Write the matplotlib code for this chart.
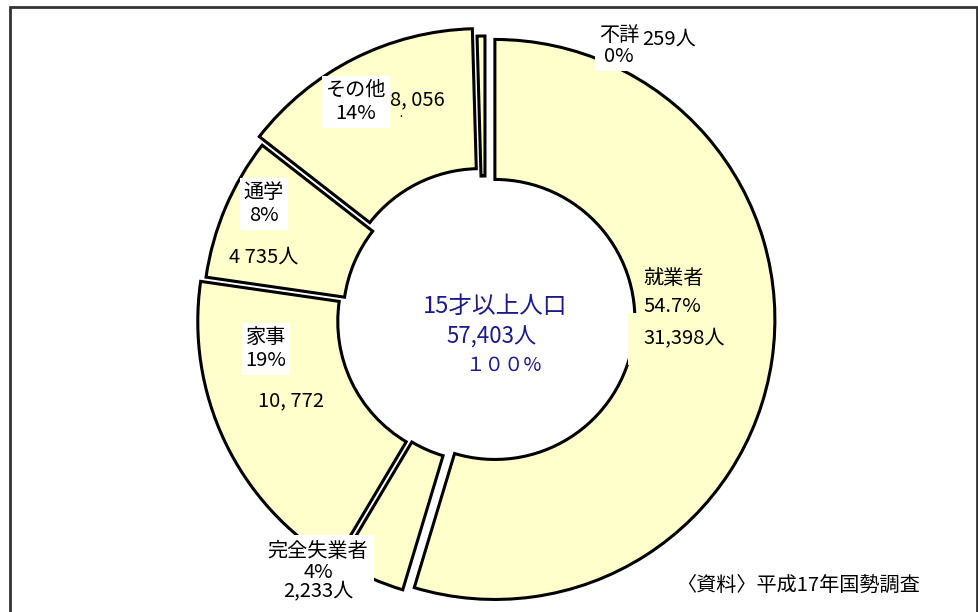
import matplotlib
matplotlib.use("Agg")
import matplotlib.pyplot as plt
from matplotlib.patches import Rectangle

plt.rcParams['font.family'] = ['Noto Sans CJK JP', 'DejaVu Sans']

# 15才以上人口の内訳 (平成17年国勢調査)
categories = ['就業者', '完全失業者', '家事', '通学', 'その他', '不詳']
people = [31398, 2233, 10772, 4735, 8056, 259]
explode = [10, 4, 8, 2, 10.5, 2]   # pixels

W, H = 979, 612
fig = plt.figure(figsize=(W / 100, H / 100), dpi=100)
ax = fig.add_axes([0, 0, 1, 1])

def py(y):
    # image pixel row -> data y
    return H - y

wedges, _ = ax.pie(people, startangle=90, counterclock=False, explode=explode,
                   center=(485, py(318)), radius=280,
                   colors=['#FFFFCC'] * len(people),
                   wedgeprops=dict(width=140, edgecolor='black', linewidth=2.2))
for w in wedges:
    w.set_zorder(1)
wedges[2].set_zorder(3)  # 家事 drawn over the 通学 count text

ax.set_xlim(0, W)
ax.set_ylim(0, H)
ax.set_aspect('equal')
ax.axis('off')

# outer frame
ax.add_patch(Rectangle((10, py(700)), 967, 693, fill=False, edgecolor='#333333',
                       linewidth=2, zorder=0))

white = dict(boxstyle='square,pad=0.2', fc='white', ec='none')
fs = 14.5

ax.text(619, py(46), '不詳\n0%', ha='center', va='center', fontsize=fs,
        linespacing=1.0, bbox=white, zorder=5)
ax.text(642, py(39), '259人', ha='left', va='center', fontsize=fs, zorder=6)

ax.text(356, py(102), 'その他\n14%', ha='center', va='center', fontsize=fs,
        linespacing=1.15, bbox=white, zorder=5)
ax.text(390, py(100), '8, 056', ha='left', va='center', fontsize=fs, zorder=5)
ax.text(401, py(117), '·', ha='center', va='center', fontsize=9, zorder=5)

ax.text(264, py(204), '通学\n8%', ha='center', va='center', fontsize=fs,
        linespacing=1.15, bbox=white, zorder=5)
ax.text(229, py(257), '4 735人', ha='left', va='center', fontsize=fs, zorder=2)

ax.text(266, py(349), '家事\n19%', ha='center', va='center', fontsize=fs,
        linespacing=1.15, bbox=white, zorder=5)
ax.text(258, py(401), '10, 772', ha='left', va='center', fontsize=fs, zorder=5)

ax.text(318, py(572), '完全失業者\n4%\n2,233人', ha='center', va='center', fontsize=fs,
        linespacing=0.95, bbox=dict(boxstyle='square,pad=0.3', fc='white', ec='none'),
        zorder=5)

ax.text(643, py(278), '就業者', ha='left', va='center', fontsize=fs, zorder=5)
ax.text(643, py(306), '54.7%', ha='left', va='center', fontsize=fs, zorder=5)
ax.text(643, py(339), '31,398人', ha='left', va='center', fontsize=fs, zorder=6,
        bbox=dict(boxstyle='square,pad=0.75', fc='#FFFFCC', ec='none'))

navy = '#1A1A8A'
ax.text(495, py(306), '15才以上人口', ha='center', va='center', fontsize=17,
        color=navy, zorder=5)
ax.text(492, py(337), '57,403人', ha='center', va='center', fontsize=16,
        color=navy, zorder=5)
ax.text(503, py(365), '１００%', ha='center', va='center', fontsize=14,
        color=navy, zorder=5)

ax.text(676, py(585), '〈資料〉平成17年国勢調査', ha='left', va='center', fontsize=fs,
        zorder=5)

fig.savefig('out.png', dpi=100)
